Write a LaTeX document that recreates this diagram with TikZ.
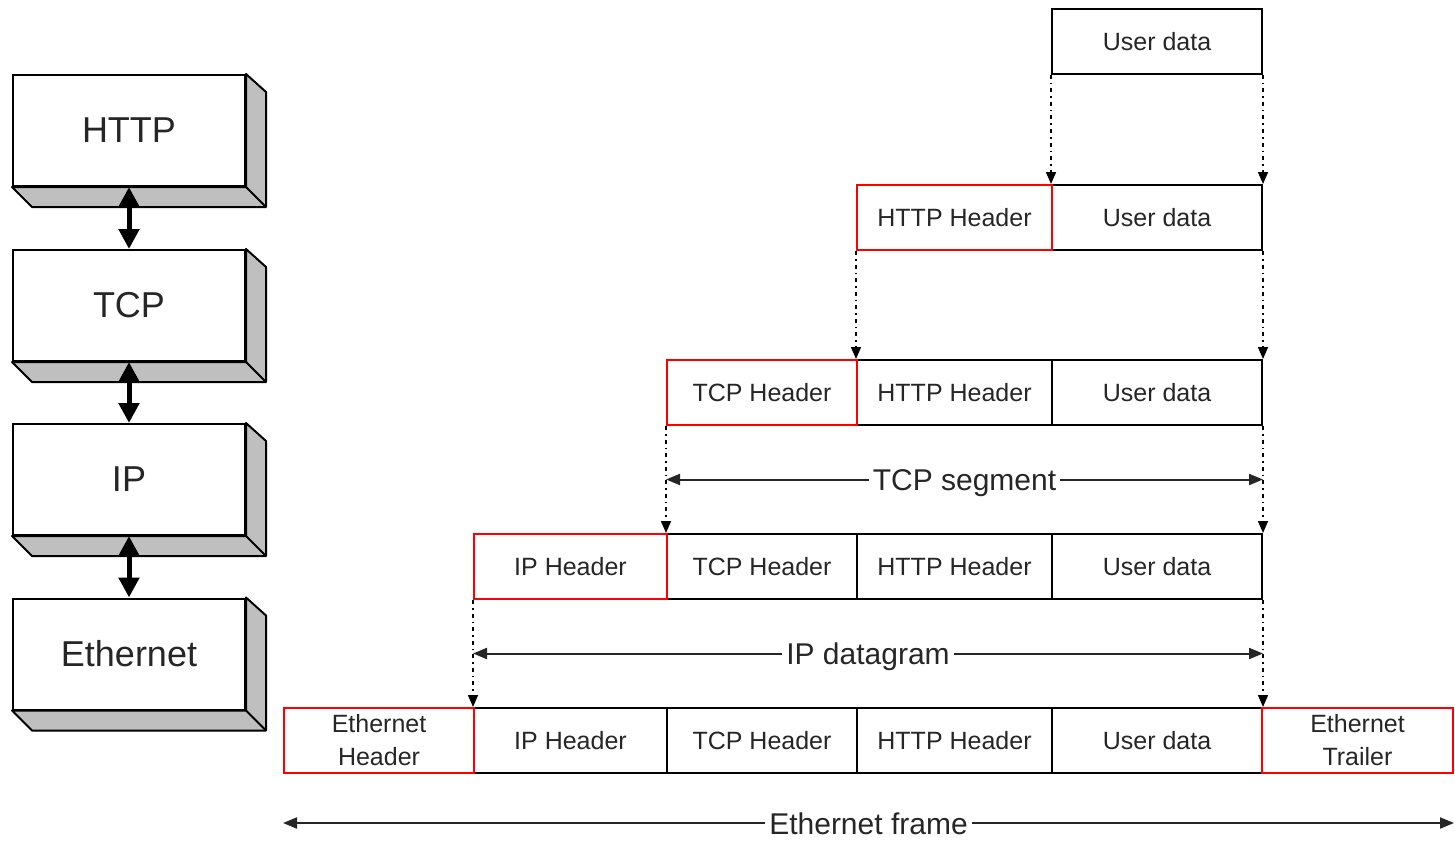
\documentclass[tikz,border=0pt]{standalone}
\usepackage{fontspec}
\setmainfont{Liberation Sans}
\usetikzlibrary{arrows.meta,calc}

\tikzset{
  layer/.style={draw=black, line width=2pt, fill=white, minimum width=232pt, minimum height=111pt, inner sep=0pt, text=black!85, font=\fontsize{36}{40}\selectfont},
  cell/.style={draw=black, line width=2pt, minimum height=65pt, inner sep=0pt, text=black!85, font=\fontsize{25}{33}\selectfont, align=center},
  hdr/.style={cell, draw=red},
  dotarrow/.style={line width=1.5pt, dash pattern=on 4pt off 4pt on 1.5pt off 4pt, -{Triangle[length=12pt,width=10pt]}},
  layerarrow/.style={line width=5pt, {Triangle[length=20pt,width=20pt]}-{Triangle[length=20pt,width=20pt]}},
  dimarrow/.style={line width=2pt, black!85, {Triangle[length=14pt,width=11pt]}-{Triangle[length=14pt,width=11pt]}},
  dimlabel/.style={fill=white, inner xsep=4pt, inner ysep=0pt, text height=22pt, text depth=0pt, text=black!85, font=\fontsize{30}{34}\selectfont}
}

\begin{document}
\begin{tikzpicture}[x=1pt,y=-1pt]
\useasboundingbox (0,0) rectangle (1455,840);

% draw protocol layers
\foreach \lname/\ltext/\ly in {http/HTTP/130.5, tcp/TCP/305.5, ip/IP/479.5, eth/Ethernet/654} {
  \node[layer] (\lname) at (129,\ly) {\ltext};
  \filldraw[fill=gray!50, line width=2pt, line join=round] (\lname.south west) -- ++(20,20) -- ([shift={(20,20)}]\lname.south east) -- ([shift={(20,18)}]\lname.north east) -- (\lname.north east) -- (\lname.south east) -- cycle;
  \draw[line width=2pt] (\lname.south east) -- ++(20,20);
}

% draw layer arrows
\draw[layerarrow] (http.south) -- (tcp.north);
\draw[layerarrow] (tcp.south) -- (ip.north);
\draw[layerarrow] (ip.south) -- (eth.north);

% draw user data column
\foreach \r/\y in {0/41.5, 1/217.5, 2/392.5, 3/566.5, 4/740.5}
  \node[cell, minimum width=210pt] (u\r) at (1157,\y) {User data};

% draw HTTP header column
\foreach \r/\y in {2/392.5, 3/566.5, 4/740.5}
  \node[cell, minimum width=195pt] (h\r) at (954.5,\y) {HTTP Header};
\node[hdr, minimum width=195pt] (h1) at (954.5,217.5) {HTTP Header};

% draw TCP header column
\foreach \r/\y in {3/566.5, 4/740.5}
  \node[cell, minimum width=190pt] (t\r) at (762,\y) {TCP Header};
\node[hdr, minimum width=190pt] (t2) at (762,392.5) {TCP Header};

% draw IP header column
\node[cell, minimum width=193pt] (i4) at (570.5,740.5) {IP Header};
\node[hdr, minimum width=193pt] (i3) at (570.5,566.5) {IP Header};

% draw Ethernet header and trailer
\node[hdr, minimum width=190pt] (eh) at (379,740.5) {Ethernet\\Header};
\node[hdr, minimum width=191pt] (et) at (1357.5,740.5) {Ethernet\\Trailer};

% draw encapsulation arrows
\draw[dotarrow] (u0.south west) -- (u1.north west);
\draw[dotarrow] (u0.south east) -- (u1.north east);
\draw[dotarrow] (h1.south west) -- (h2.north west);
\draw[dotarrow] (u1.south east) -- (u2.north east);
\draw[dotarrow] (t2.south west) -- (t3.north west);
\draw[dotarrow] (u2.south east) -- (u3.north east);
\draw[dotarrow] (i3.south west) -- (i4.north west);
\draw[dotarrow] (u3.south east) -- (u4.north east);

% draw TCP segment
\coordinate (segL) at ($(t2.south west)!0.5!(t3.north west)$);
\coordinate (segR) at ($(u2.south east)!0.5!(u3.north east)$);
\draw[dimarrow] (segL) -- node[dimlabel] {TCP segment} (segR);

% draw IP datagram
\coordinate (dgL) at ($(i3.south west)!0.5!(i4.north west)$);
\coordinate (dgR) at ($(u3.south east)!0.5!(u4.north east)$);
\draw[dimarrow] (dgL) -- node[dimlabel] {IP datagram} (dgR);

% draw Ethernet frame
\coordinate (frmL) at ($(eh.south west)+(0,49)$);
\coordinate (frmR) at ($(et.south east)+(0,49)$);
\draw[dimarrow] (frmL) -- node[dimlabel] {Ethernet frame} (frmR);

\end{tikzpicture}
\end{document}
